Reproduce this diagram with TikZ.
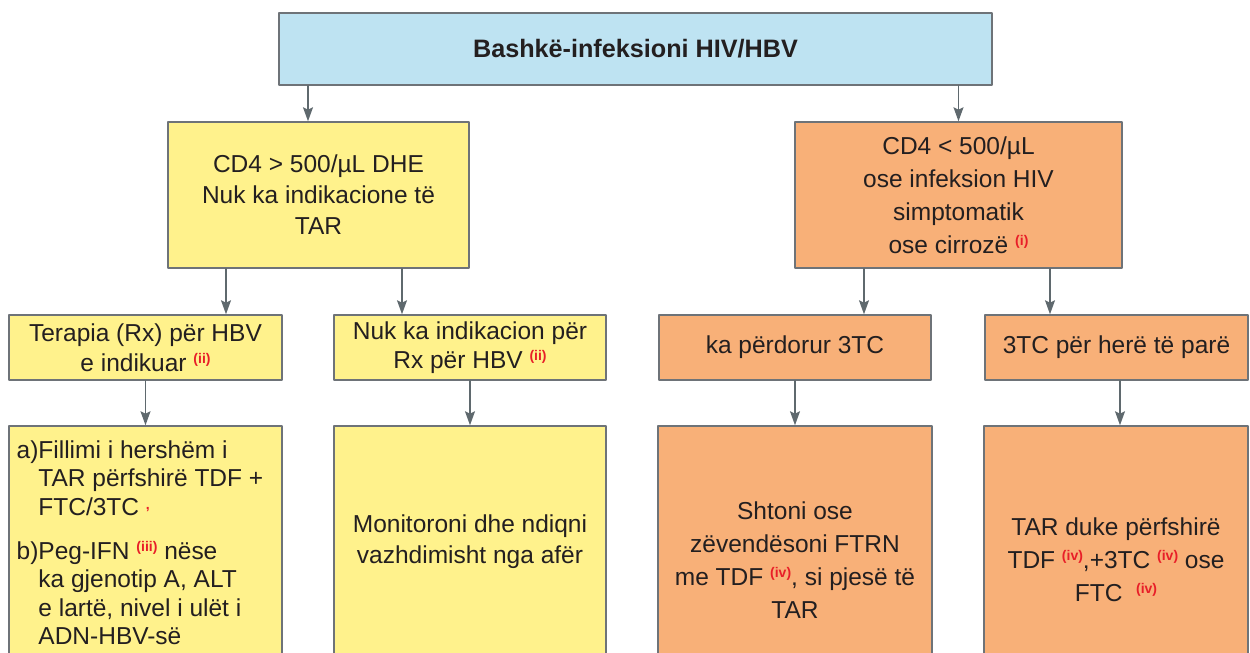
\documentclass[tikz,border=0pt]{standalone}
\usepackage{fontspec}
\setmainfont{Liberation Sans}
\usepackage{tikz}
\usetikzlibrary{arrows.meta}
\definecolor{hdrblue}{RGB}{190,227,242}
\definecolor{yelfill}{RGB}{255,242,140}
\definecolor{orgfill}{RGB}{248,176,120}
\definecolor{boxgray}{RGB}{110,115,120}
\definecolor{arrgray}{RGB}{95,105,110}
\definecolor{fnred}{RGB}{232,30,40}
\definecolor{txt}{RGB}{35,31,32}
\newcommand{\fnref}[1]{\raisebox{4pt}{\fontsize{7}{8}\selectfont\bfseries\color{fnred}(#1)}}
\newcommand{\fncomma}{\raisebox{3pt}{\fontsize{7}{8}\selectfont\bfseries\color{fnred},}}

\begin{document}
\begin{tikzpicture}[x=0.5pt,y=-0.5pt,line cap=round,line join=round,
  >={Stealth[length=7pt,width=5pt,inset=1.2pt]},
  box/.style={draw=boxgray,line width=0.75pt,align=center,inner sep=0pt,
    text=txt,font=\fontsize{12.25}{15.5}\selectfont},
  yel/.style={box,fill=yelfill},
  org/.style={box,fill=orgfill},
  arr/.style={->,draw=arrgray,line width=0.75pt}]
\useasboundingbox (0,0) rectangle (1250,653);
\clip (0,0) rectangle (1250,653);
% first level
\node (top) [box,fill=hdrblue,minimum width=356.5pt,minimum height=36pt,
  font=\fontsize{12.6}{15}\selectfont\bfseries] at (635.5,49) {Bashkë-infeksioni HIV/HBV};
% second level
\node (cdA) [yel,minimum width=150.5pt,minimum height=73pt] at (318.5,195)
  {CD4 > 500/µL DHE\\Nuk ka indikacione të\\TAR};
\node (cdB) [org,minimum width=163.5pt,minimum height=73pt,
  font=\fontsize{12.25}{16.5}\selectfont] at (958.5,195)
  {CD4 < 500/µL\\ose infeksion HIV\\simptomatik\\ose cirrozë \fnref{i}};
% third level
\node (rxA) [yel,minimum width=136.5pt,minimum height=32.5pt,
  font=\fontsize{12.25}{14.8}\selectfont] at (145.5,347.5)
  {Terapia (Rx) për HBV\\e indikuar \fnref{ii}};
\node (rxB) [yel,minimum width=136pt,minimum height=32.5pt,
  font=\fontsize{12.25}{14.8}\selectfont] at (470,347.5)
  {Nuk ka indikacion për\\Rx për HBV \fnref{ii}};
\node (tcA) [org,minimum width=136pt,minimum height=32.5pt] at (795,347.5)
  {ka përdorur 3TC};
\node (tcB) [org,minimum width=131.5pt,minimum height=32.5pt] at (1116.5,347.5)
  {3TC për herë të parë};
% fourth level
\node (trA) [yel,minimum width=136.5pt,minimum height=120pt] at (145.5,546) {};
\node (trAtxt) [anchor=base west,inner sep=0pt,text=txt,
  font=\fontsize{12.25}{14.2}\selectfont] at ([xshift=4pt,yshift=-16.5pt]trA.north west)
  {\begin{tabular}[t]{@{}l@{}l@{}}
   a)&Fillimi i hershëm i\\
     &TAR përfshirë TDF +\\
     &FTC/3TC \fncomma\\[8pt]
   b)&Peg-IFN \fnref{iii} nëse\\
     &ka gjenotip A, ALT\\
     &e lartë, nivel i ulët i\\
     &ADN-HBV-së
  \end{tabular}};
\node (trB) [yel,minimum width=136pt,minimum height=116pt] at (470,542)
  {Monitoroni dhe ndiqni\\vazhdimisht nga afër};
\node (trC) [org,minimum width=137pt,minimum height=134pt,
  font=\fontsize{12.25}{16.5}\selectfont] at (795,560)
  {Shtoni ose\\zëvendësoni FTRN\\me TDF \fnref{iv}, si pjesë të\\TAR};
\node (trD) [org,minimum width=132pt,minimum height=134pt,
  font=\fontsize{12.25}{16.5}\selectfont] at (1116,560)
  {TAR duke përfshirë\\TDF \fnref{iv},+3TC \fnref{iv} ose\\FTC \ \fnref{iv}};
% connectors
\draw[arr] (308,0 |- top.south) -- (308,0 |- cdA.north);
\draw[arr] (top.south -| cdB.north) -- (cdB.north);
\draw[arr] (226,0 |- cdA.south) -- (226,0 |- rxA.north);
\draw[arr] (402,0 |- cdA.south) -- (402,0 |- rxB.north);
\draw[arr] (864,0 |- cdB.south) -- (864,0 |- tcA.north);
\draw[arr] (1050,0 |- cdB.south) -- (1050,0 |- tcB.north);
\draw[arr] (rxA.south) -- (trA.north);
\draw[arr] (rxB.south) -- (trB.north);
\draw[arr] (tcA.south) -- (trC.north);
\draw[arr] (1120,0 |- tcB.south) -- (1120,0 |- trD.north);
\end{tikzpicture}
\end{document}
